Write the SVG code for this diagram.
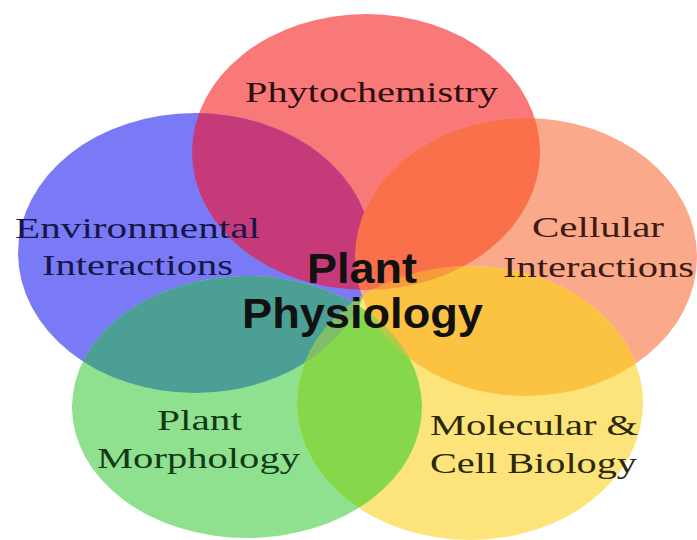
<svg xmlns="http://www.w3.org/2000/svg" xmlns:xlink="http://www.w3.org/1999/xlink" width="697" height="540" viewBox="0 0 697 540">
  <style>
    .lbl { font-family: "Liberation Serif", "Times New Roman", serif; font-size: 30px; }
    .ctr { font-family: "Liberation Sans", Arial, sans-serif; font-size: 42px; font-weight: bold; fill: #111111; }
  </style>
  <defs>
    <ellipse id="eR" cx="366" cy="152" rx="174" ry="138"/>
    <ellipse id="eB" cx="195" cy="253" rx="177" ry="140"/>
    <ellipse id="eO" cx="526" cy="257" rx="171" ry="139"/>
    <ellipse id="eG" cx="247" cy="407" rx="175" ry="131"/>
    <ellipse id="eY" cx="470" cy="403" rx="173" ry="137"/>
    <clipPath id="cR"><use xlink:href="#eR"/></clipPath>
    <clipPath id="cB"><use xlink:href="#eB"/></clipPath>
    <clipPath id="cO"><use xlink:href="#eO"/></clipPath>
    <clipPath id="cG"><use xlink:href="#eG"/></clipPath>
    <clipPath id="cY"><use xlink:href="#eY"/></clipPath>
  </defs>
  <rect width="697" height="540" fill="#ffffff"/>

  <g id="node-phytochemistry"><use xlink:href="#eR" fill="#f97979"/></g>
  <g id="node-environmental"><use xlink:href="#eB" fill="#7a7af7"/></g>
  <g id="node-cellular"><use xlink:href="#eO" fill="#faa98a"/></g>
  <g id="node-morphology"><use xlink:href="#eG" fill="#8fe18f"/></g>
  <g id="node-molecular"><use xlink:href="#eY" fill="#fde47a"/></g>

  <g id="overlaps">
    <use xlink:href="#eB" clip-path="url(#cR)" fill="#c63a7a"/>
    <use xlink:href="#eO" clip-path="url(#cR)" fill="#f9704b"/>
    <use xlink:href="#eG" clip-path="url(#cB)" fill="#4c9f95"/>
    <use xlink:href="#eY" clip-path="url(#cO)" fill="#fcc241"/>
    <use xlink:href="#eY" clip-path="url(#cG)" fill="#86d84b"/>
    <g clip-path="url(#cR)"><use xlink:href="#eG" fill="#8f7a52"/></g>
    <g clip-path="url(#cR)"><use xlink:href="#eY" fill="#f79a3c"/></g>
    <g clip-path="url(#cB)"><use xlink:href="#eY" fill="#7fbf6a"/></g>
    <g clip-path="url(#cO)"><use xlink:href="#eG" fill="#b8c94a"/></g>
  </g>

  <g id="labels">
    <text id="t-phyto" class="lbl" x="245" y="102" textLength="253" lengthAdjust="spacingAndGlyphs" fill="#2e0e12">Phytochemistry</text>
    <text id="t-env1" class="lbl" x="15" y="238" textLength="245" lengthAdjust="spacingAndGlyphs" fill="#16164a">Environmental</text>
    <text id="t-env2" class="lbl" x="42" y="275" textLength="191" lengthAdjust="spacingAndGlyphs" fill="#16164a">Interactions</text>
    <text id="t-cell1" class="lbl" x="532" y="237" textLength="132" lengthAdjust="spacingAndGlyphs" fill="#3a1c12">Cellular</text>
    <text id="t-cell2" class="lbl" x="503" y="277" textLength="191" lengthAdjust="spacingAndGlyphs" fill="#3a1c12">Interactions</text>
    <text id="t-morph1" class="lbl" x="157" y="430" textLength="85" lengthAdjust="spacingAndGlyphs" fill="#133a16">Plant</text>
    <text id="t-morph2" class="lbl" x="97" y="468" textLength="203" lengthAdjust="spacingAndGlyphs" fill="#133a16">Morphology</text>
    <text id="t-mol1" class="lbl" x="430" y="435" textLength="208" lengthAdjust="spacingAndGlyphs" fill="#2c280c">Molecular &amp;</text>
    <text id="t-mol2" class="lbl" x="430" y="473" textLength="207" lengthAdjust="spacingAndGlyphs" fill="#2c280c">Cell Biology</text>
    <text id="t-center1" class="ctr" x="307" y="283" textLength="110" lengthAdjust="spacingAndGlyphs">Plant</text>
    <text id="t-center2" class="ctr" x="242" y="328" textLength="241" lengthAdjust="spacingAndGlyphs">Physiology</text>
  </g>
</svg>
